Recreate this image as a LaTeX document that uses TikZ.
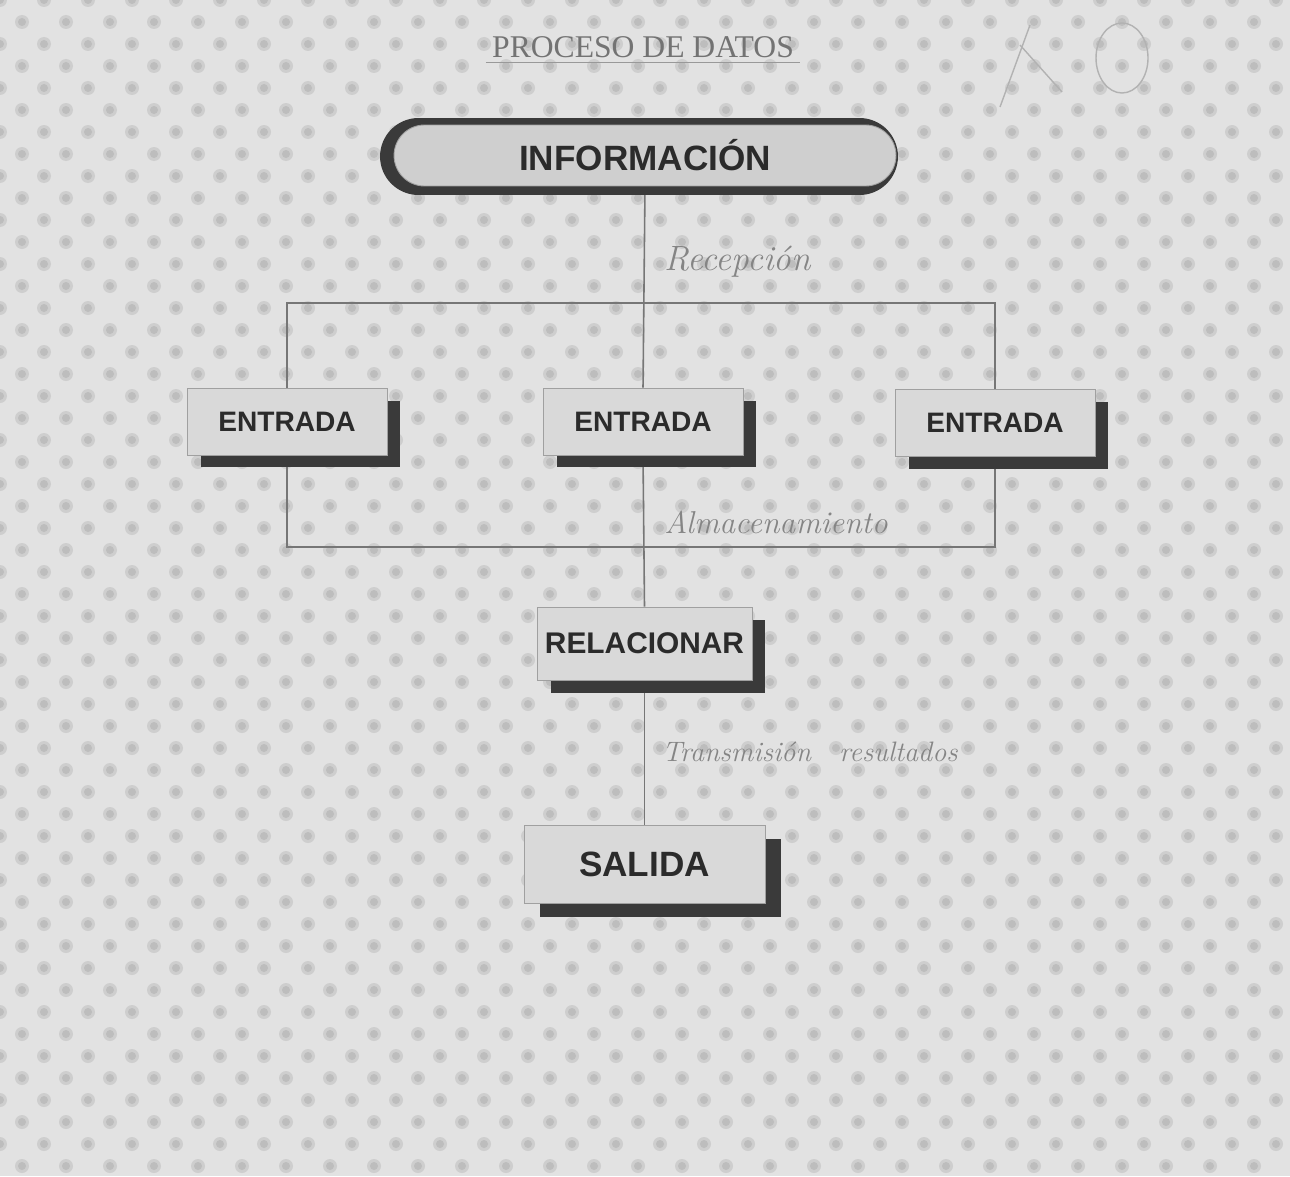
\documentclass[tikz,border=0pt]{standalone}
\usepackage{fontspec}
\newfontfamily\titulofont{Liberation Serif}
\newfontfamily\cajafont{Liberation Sans}
\usepackage{tikz}
\usetikzlibrary{positioning,shadows,backgrounds,calc}
\definecolor{colFondo}{HTML}{E2E2E2}
\definecolor{colPunto}{HTML}{BDBDBD}
\definecolor{colCaja}{HTML}{D9D9D9}
\definecolor{colPildora}{HTML}{CFCFCF}
\definecolor{colBorde}{HTML}{A0A0A0}
\definecolor{colSombra}{HTML}{3A3A3A}
\definecolor{colTexto}{HTML}{2B2B2B}
\definecolor{colLinea}{HTML}{767676}
\definecolor{colLapiz}{HTML}{858585}

\begin{document}
\begin{tikzpicture}[x=0.02cm, y=-0.02cm,
        caja/.style={draw=colBorde, fill=colCaja, text=colTexto, align=center, inner sep=0pt, line width=0.5pt},
        sombra/.style={drop shadow={shadow xshift=0.27cm, shadow yshift=-0.25cm, fill=colSombra, opacity=1}},
        entrada/.style={caja, sombra, minimum width=4cm, minimum height=1.34cm, font=\cajafont\bfseries\fontsize{16}{19}\selectfont},
        paso/.style={caja, sombra, minimum width=4.3cm, minimum height=1.46cm, font=\cajafont\bfseries\fontsize{17}{20}\selectfont},
        salida/.style={caja, minimum width=4.82cm, minimum height=1.56cm, font=\cajafont\bfseries\fontsize{20}{24}\selectfont,
            drop shadow={shadow xshift=0.32cm, shadow yshift=-0.28cm, fill=colSombra, opacity=1}},
        linea/.style={draw=colLinea, line width=0.9pt},
        lapiz/.style={text=colLapiz, anchor=west, inner sep=0pt, font=\itshape\fontsize{20}{24}\selectfont}
    ]

    \useasboundingbox (0,0) rectangle (1290,1176);

    % Fondo punteado
    \begin{scope}[on background layer]
        \clip (0,0) rectangle (1290,1176);
        \fill[colFondo] (0,0) rectangle (1290,1176);
        \foreach \fila in {0,...,54} {
            \pgfmathsetmacro{\desp}{mod(\fila,2)*22}
            \foreach \col in {0,...,30} {
                \fill[colPunto!55!colFondo] ({\col*44+\desp}, {\fila*22}) circle[radius=7];
                \fill[colPunto] ({\col*44+\desp}, {\fila*22}) circle[radius=4];
            }
        }
    \end{scope}

    % Titulo
    \node[text=black!55, font=\titulofont\fontsize{18}{22}\selectfont] (titulo) at (643,47) {PROCESO DE DATOS};
    \draw[black!40, line width=0.6pt] ([yshift=1pt]titulo.south west) -- ([yshift=1pt]titulo.south east);

    % Marcas a mano (arriba a la derecha)
    \draw[black!30, line width=0.8pt] (1000,107) -- (1030,25);
    \draw[black!30, line width=0.8pt] (1020,45) -- (1062,92);
    \draw[black!30, line width=0.8pt] (1122,58) ellipse [x radius=26, y radius=35];

    % Nivel 1
    \node[fill=colSombra, rounded corners=0.77cm, minimum width=10.36cm, minimum height=1.54cm] (infoSombra) at (639,156.5) {};
    \node[caja, fill=colPildora, rounded corners=0.61cm, minimum width=10.04cm, minimum height=1.22cm,
        font=\cajafont\bfseries\fontsize{20}{24}\selectfont] (info) at (645,155.5) {INFORMACIÓN};

    % Nivel 2
    \node[entrada] (entUno) at (287,421.5) {ENTRADA};
    \node[entrada] (entDos) at (643,421.5) {ENTRADA};
    \node[entrada] (entTres) at (995,423) {ENTRADA};

    % Nivel 3
    \node[paso] (rel) at (644.5,643.5) {RELACIONAR};

    % Nivel 4
    \node[salida] (sal) at (644.5,864) {SALIDA};

    % Anotaciones a mano
    \node[lapiz] (recepcion) at (664,262) {Recepción};
    \node[lapiz, font=\itshape\fontsize{18}{22}\selectfont] (almacen) at (664,522) {Almacenamiento};
    \node[lapiz, font=\itshape\fontsize{16}{20}\selectfont] (transm) at (662,752) {Transmisión\quad resultados};

    % Conexiones
    \coordinate (bifArriba) at (645,303);
    \coordinate (bifAbajo) at (645,547);
    \begin{scope}[on background layer]
        \draw[linea] (info.south) -- (entDos.north);
        \draw[linea] (entUno.north) |- (bifArriba) -| (entTres.north);
        \draw[linea] (entUno.south) |- (bifAbajo) -| (entTres.south);
        \draw[linea] (entDos.south) -- (rel.north);
        \draw[linea] (rel.south) -- (sal.north);
    \end{scope}

\end{tikzpicture}
\end{document}
